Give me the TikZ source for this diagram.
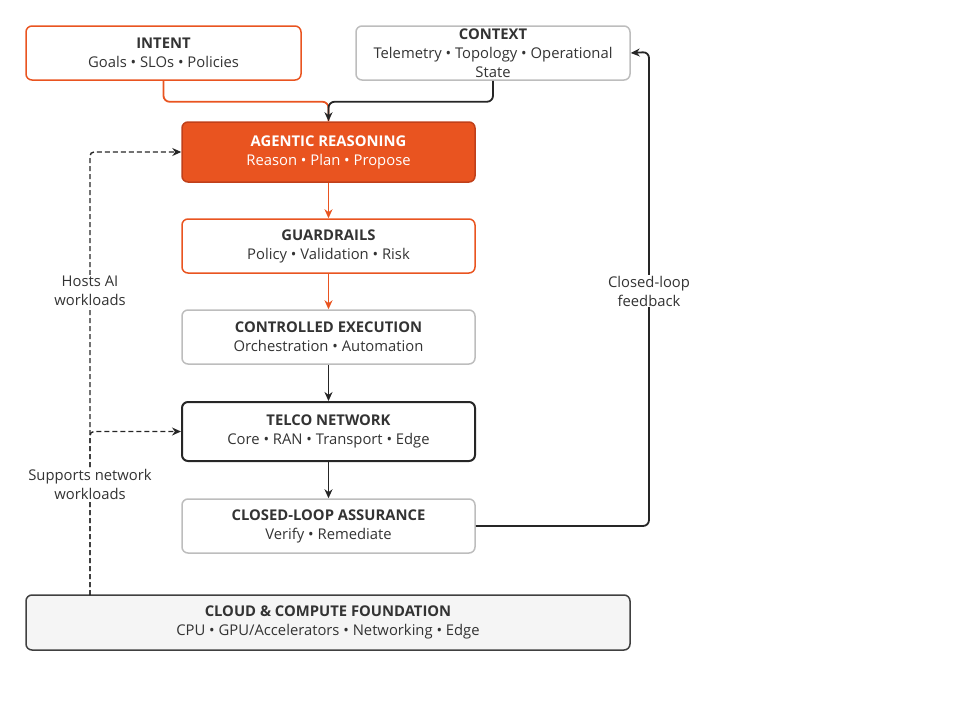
\documentclass[tikz,border=0pt]{standalone}
\usepackage{xcolor}
\usepackage{fontspec}
\setmainfont{Open Sans}
\usepackage{tikz}
\usetikzlibrary{arrows.meta}

\definecolor{ubuorange}{HTML}{E95420}
\definecolor{darkorange}{HTML}{C0401A}
\definecolor{boxgray}{HTML}{BDBDBD}
\definecolor{inkgray}{HTML}{333333}
\definecolor{cloudfill}{HTML}{F5F5F5}

\tikzset{
  card/.style={draw, rounded corners=6pt, line width=1.5pt, align=center, text=inkgray,
    font=\fontsize{14.8}{19}\selectfont, inner sep=0pt},
  tag/.style={fill=white, align=center, text=inkgray, font=\fontsize{14.8}{19}\selectfont, inner sep=1pt},
}

\begin{document}
\begin{tikzpicture}[x=1pt, y=-1pt, >={Stealth[length=9pt,width=8pt]}]
		\useasboundingbox (0,0) rectangle (960,720);
		\draw
		node[card, ubuorange, text=inkgray, minimum width=275pt, minimum height=54pt] at (163.5,53) (intent) {\textbf{INTENT}\\Goals • SLOs • Policies}
		node[card, boxgray, text=inkgray, minimum width=274pt, minimum height=54pt] at (493,53) (context) {\textbf{CONTEXT}\\Telemetry • Topology • Operational\\State}
		node[card, darkorange, fill=ubuorange, text=white, minimum width=293pt, minimum height=60pt] at (328.5,152) (agent) {\textbf{AGENTIC REASONING}\\Reason • Plan • Propose}
		node[card, ubuorange, text=inkgray, minimum width=293pt, minimum height=54pt] at (328.5,246) (guard) {\textbf{GUARDRAILS}\\Policy • Validation • Risk}
		node[card, boxgray, text=inkgray, minimum width=293pt, minimum height=54pt] at (328.5,337) (exec) {\textbf{CONTROLLED EXECUTION}\\Orchestration • Automation}
		node[card, black!85, line width=2pt, text=inkgray, minimum width=293pt, minimum height=59pt] at (328.5,431.5) (telco) {\textbf{TELCO NETWORK}\\Core • RAN • Transport • Edge}
		node[card, boxgray, text=inkgray, minimum width=293pt, minimum height=54pt] at (328.5,526) (assure) {\textbf{CLOSED-LOOP ASSURANCE}\\Verify • Remediate}
		node[card, black!75, fill=cloudfill, text=inkgray, minimum width=604pt, minimum height=55pt] at (328,622.5) (cloud) {\textbf{CLOUD \& COMPUTE FOUNDATION}\\CPU • GPU/Accelerators • Networking • Edge};
		% free corners
		\coordinate (fb) at (649,52);
		\coordinate (foot) at (90,595);
		% inputs
		\draw[ubuorange, line width=1.8pt, rounded corners=6pt] (intent.south) -- ++(0,21) -| (agent.north);
		\draw[->, black!85, line width=1.8pt, rounded corners=6pt] (context.south) -- ++(0,21) -| (agent.north);
		% main chain
		\draw[->, ubuorange, line width=1.8pt] (agent) -- (guard);
		\draw[->, ubuorange, line width=1.8pt] (guard) -- (exec);
		\draw[->, black!85, line width=1.8pt] (exec) -- (telco);
		\draw[->, black!85, line width=1.8pt] (telco) -- (assure);
		% feedback
		\draw[->, black!85, line width=1.8pt, rounded corners=6pt] (assure.east) -| (fb) -- (context.east);
		\node[tag] at (649,291) (fblabel) {Closed-loop\\feedback};
		% foundation
		\draw[->, black!85, line width=1.4pt, dash pattern=on 5pt off 3pt, rounded corners=4pt] (foot) |- (telco.west);
		\draw[->, black!85, line width=1.4pt, dash pattern=on 5pt off 3pt, rounded corners=4pt] (foot) |- (agent.west);
		\node[tag] at (90,291) (hosts) {Hosts AI\\workloads};
		\node[tag] at (90,484) (supports) {Supports network\\workloads};
\end{tikzpicture}
\end{document}
